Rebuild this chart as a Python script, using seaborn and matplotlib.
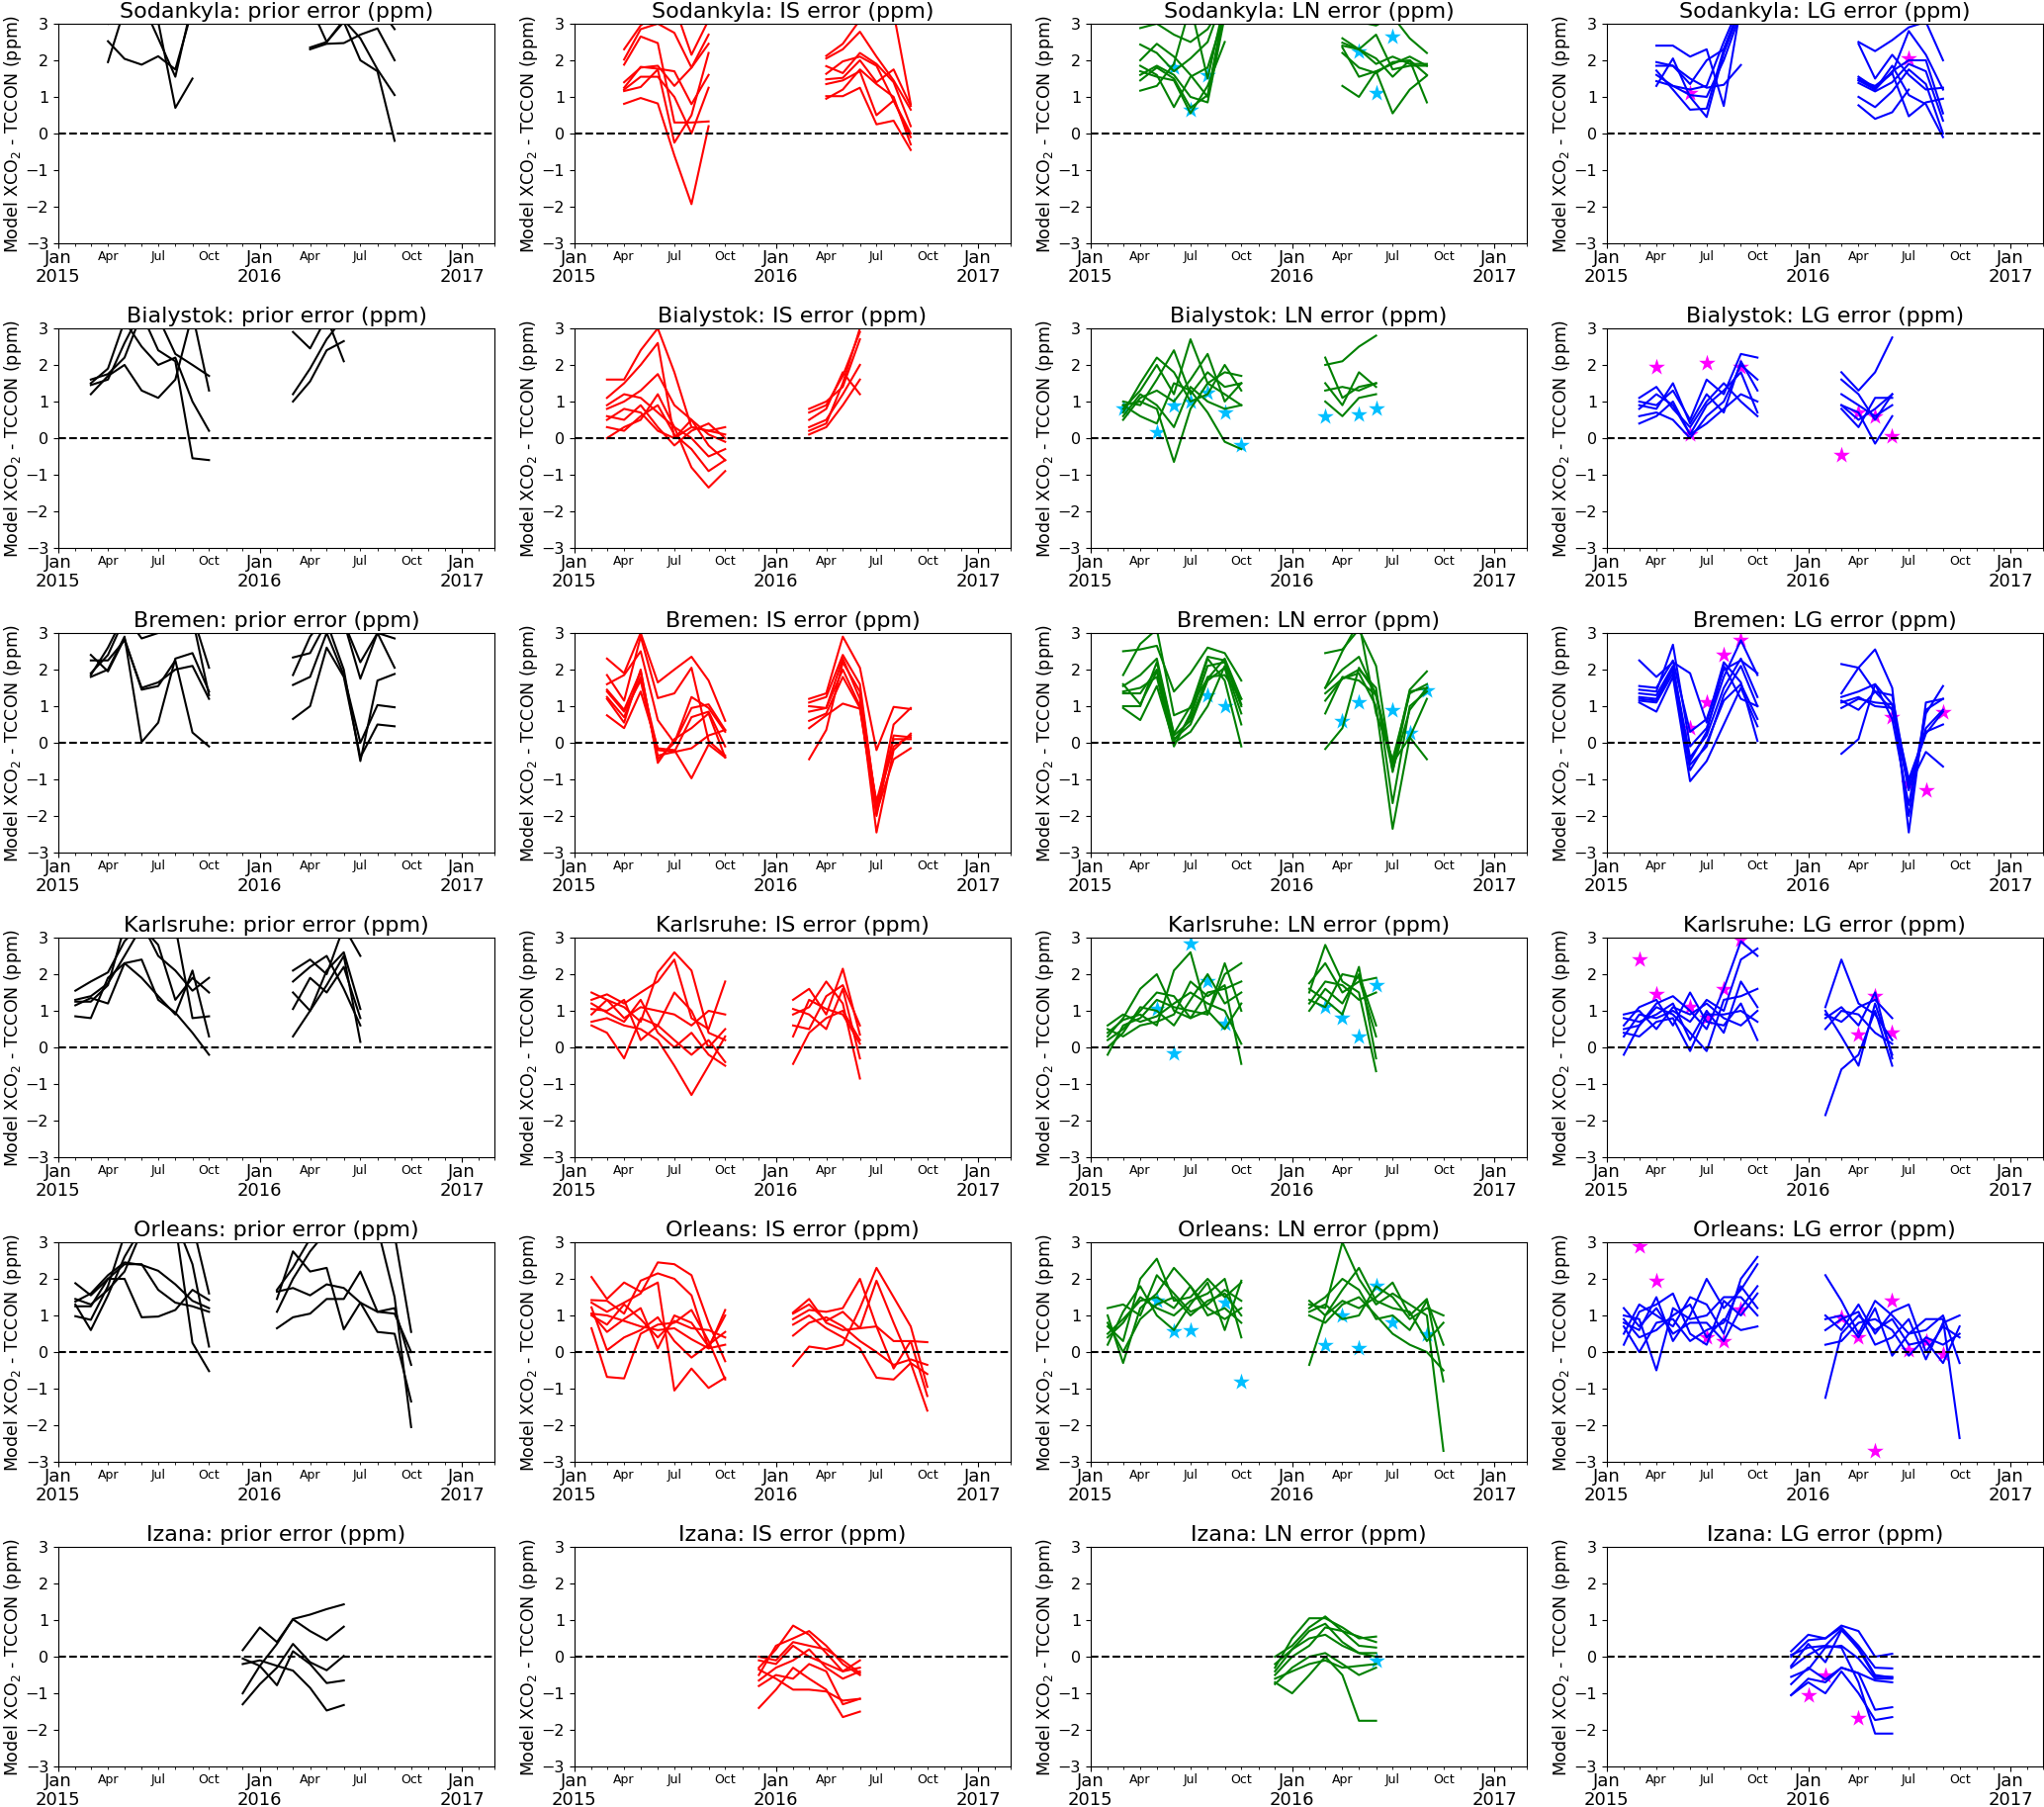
"""plot.py

Model XCO2 minus TCCON errors at six European TCCON sites.
Rows are stations, columns are the prior and the three inversion
set-ups (IS, LN, LG). Every line is one ensemble member, sampled monthly;
stars mark the extra monthly points of the LN / LG runs.
"""

import matplotlib
matplotlib.use("Agg")
import matplotlib.pyplot as plt
import matplotlib.dates as mdates
from matplotlib.ticker import FuncFormatter
import pandas as pd
import seaborn as sns

stations = ["Sodankyla", "Bialystok", "Bremen", "Karlsruhe", "Orleans", "Izana"]
runs = ["prior", "IS", "LN", "LG"]
run_colors = ["black", "red", "green", "blue"]
star_colors = [None, None, "deepskyblue", "magenta"]

# each member: (first month, monthly values in ppm)
sod_prior = [
    ("2015-04", [1.95, 3.4, 3.6, 2.6, 1.55, 3.6]),
    ("2015-04", [3.0, 3.5, 3.4, 3.05, 0.7, 1.5]),
    ("2015-04", [2.52, 2.04, 1.88, 2.11, 1.75, 3.4]),
    ("2016-04", [2.3, 2.45, 2.47, 2.7, 2.87, 2.0]),
    ("2016-04", [2.35, 2.5, 3.05, 2.0, 1.7, -0.2]),
    ("2016-04", [3.5, 2.5, 3.1, 2.6, 1.75, 1.05]),
    ("2016-04", [3.8, 3.6, 3.5, 3.6, 3.5, 2.85]),
]
sod_is = [
    ("2015-04", [2.3, 2.95, 3.3, 3.5, 2.15, 3.1]),
    ("2015-04", [2.02, 2.85, 3.0, 2.75, 1.8, 2.7]),
    ("2015-04", [1.88, 2.65, 2.47, 0.3, 0.3, 0.33]),
    ("2015-04", [1.4, 1.8, 1.85, 1.3, 1.8, 2.45]),
    ("2015-04", [1.25, 1.82, 1.77, 1.7, 0.8, 1.6]),
    ("2015-04", [1.16, 1.27, 1.75, -0.25, 0.5, 2.2]),
    ("2015-04", [0.81, 0.97, 0.82, -0.6, -1.93, 0.2]),
    ("2015-04", [1.2, 1.55, 1.55, 1.0, 0.0, 1.25]),
    ("2016-04", [2.12, 2.45, 3.1, 3.5, 3.3, 0.8]),
    ("2016-04", [2.05, 2.3, 2.78, 2.1, 1.45, 0.65]),
    ("2016-04", [1.84, 1.65, 2.2, 1.9, 1.4, 0.2]),
    ("2016-04", [1.63, 1.97, 2.1, 1.85, 0.9, 0.0]),
    ("2016-04", [1.48, 1.52, 2.0, 1.4, 1.75, 0.75]),
    ("2016-04", [1.35, 1.45, 1.7, 0.5, 0.9, -0.1]),
    ("2016-04", [1.02, 1.02, 1.25, 0.25, 0.35, -0.45]),
    ("2016-04", [0.95, 1.2, 1.75, 1.35, 1.0, -0.3]),
]
sod_ln = [
    ("2015-04", [2.88, 3.0, 2.7, 2.5, 2.85, 3.6]),
    ("2015-04", [2.43, 2.2, 1.7, 2.05, 2.5, 3.8]),
    ("2015-04", [2.0, 2.45, 2.1, 1.6, 1.0, 3.5]),
    ("2015-04", [1.85, 1.6, 0.72, 1.55, 1.8, 3.3]),
    ("2015-04", [1.7, 1.55, 1.45, 0.55, 1.3, 2.5]),
    ("2015-04", [1.6, 1.85, 1.6, 1.0, 0.85, 3.2]),
    ("2015-04", [1.45, 1.8, 1.5, 0.7, 1.05, 3.4]),
    ("2015-04", [1.17, 1.3, 1.9, 3.5, 1.5, 3.6]),
    ("2016-04", [3.3, 3.05, 2.95, 3.2, 2.6, 2.2]),
    ("2016-04", [2.6, 2.3, 1.9, 2.1, 1.9, 1.9]),
    ("2016-04", [2.48, 2.3, 2.05, 1.55, 2.0, 0.85]),
    ("2016-04", [2.35, 1.55, 1.7, 0.55, 1.2, 1.58]),
    ("2016-04", [2.2, 1.8, 1.65, 1.95, 2.0, 1.6]),
    ("2016-04", [1.3, 1.0, 1.7, 1.9, 2.1, 1.85]),
    ("2016-04", [2.4, 2.3, 2.7, 1.75, 1.85, 1.85]),
]
sod_ln_stars = [("2015-06", 1.8), ("2015-07", 0.65), ("2015-08", 1.6),
                ("2016-05", 2.25), ("2016-06", 1.1), ("2016-07", 2.65)]
sod_lg = [
    ("2015-04", [2.4, 2.4, 2.1, 2.3, 0.75, 3.5]),
    ("2015-04", [1.95, 1.85, 1.5, 1.25, 1.33, 1.87]),
    ("2015-04", [1.85, 1.85, 1.35, 2.0, 2.3, 3.5]),
    ("2015-04", [1.72, 1.2, 0.65, 0.68, 2.3, 3.5]),
    ("2015-04", [1.6, 1.3, 1.2, 1.3, 2.5, 3.6]),
    ("2015-04", [1.43, 1.3, 1.05, 1.0, 2.0, 3.3]),
    ("2015-04", [1.3, 2.05, 1.0, 0.45, 2.2, 3.4]),
    ("2016-04", [2.5, 2.25, 2.55, 2.9, 3.05, 2.0]),
    ("2016-04", [2.45, 1.5, 2.15, 1.6, 1.2, 1.25]),
    ("2016-04", [1.55, 1.25, 1.65, 2.8, 2.15, 1.2]),
    ("2016-04", [1.45, 1.2, 1.7, 2.0, 2.0, 0.55]),
    ("2016-04", [1.38, 1.15, 1.4, 1.9, 1.7, 0.35]),
    ("2016-04", [1.0, 0.72, 1.15, 1.75, 1.35, 0.0]),
    ("2016-04", [0.77, 0.4, 0.58, 1.2]),
    ("2016-04", [1.45, 1.3, 1.65, 0.47, 0.85, 0.95]),
    ("2016-04", [1.5, 1.2, 1.85, 1.05, 0.8, -0.1]),
]
sod_lg_stars = [("2015-06", 1.1), ("2016-07", 2.05)]

bia_prior = [
    ("2015-03", [1.6, 1.75, 2.2, 3.4, 2.4, 2.1, -0.55, -0.6]),
    ("2015-03", [1.45, 1.6, 2.6, 3.5, 3.3, 2.3, 2.0, 1.7]),
    ("2015-03", [1.2, 1.7, 2.0, 1.3, 1.1, 1.6, 3.4, 1.3]),
    ("2015-03", [1.5, 1.9, 3.2, 2.5, 2.0, 2.2, 1.0, 0.2]),
    ("2016-03", [1.0, 1.55, 2.4, 2.65]),
    ("2016-03", [1.2, 1.9, 2.7, 3.3]),
    ("2016-03", [2.9, 2.45, 3.3, 2.1]),
]
bia_is = [
    ("2015-03", [1.6, 1.6, 2.4, 3.0, 1.8, 0.3, 0.2, 0.1]),
    ("2015-03", [1.1, 1.5, 2.0, 2.6, 0.0, 0.5, 0.1, -0.1]),
    ("2015-03", [0.8, 1.0, 1.3, 1.75, 0.9, 0.5, -0.2, -0.6]),
    ("2015-03", [0.5, 0.8, 0.7, 0.2, 0.0, 0.3, 0.2, 0.3]),
    ("2015-03", [0.3, 0.2, 0.6, 0.9, 0.1, -0.3, -0.9, -0.6]),
    ("2015-03", [0.0, 0.3, 0.5, 1.2, 0.3, -0.8, -1.35, -0.9]),
    ("2015-03", [0.9, 1.2, 1.1, 0.7, 0.3, 0.0, -0.5, -0.3]),
    ("2015-03", [0.6, 0.5, 0.9, 0.3, -0.2, 0.2, 0.4, 0.0]),
    ("2016-03", [0.1, 0.3, 0.9, 1.6]),
    ("2016-03", [0.3, 0.5, 1.2, 2.0]),
    ("2016-03", [0.7, 0.9, 1.7, 2.9]),
    ("2016-03", [0.8, 1.0, 1.4, 2.7]),
    ("2016-03", [0.2, 0.4, 1.5, 3.0]),
    ("2016-03", [0.5, 0.8, 1.8, 1.2]),
]
bia_ln = [
    ("2015-03", [0.8, 1.3, 2.0, 1.2, 2.7, 1.5, 1.8, 1.7]),
    ("2015-03", [0.7, 1.5, 2.2, 1.8, 1.0, 1.2, 2.0, 1.3]),
    ("2015-03", [0.9, 1.0, 0.8, -0.65, 0.8, 1.5, 1.2, 0.9]),
    ("2015-03", [0.5, 1.1, 1.3, 1.0, 1.6, 2.3, 1.0, 1.5]),
    ("2015-03", [0.9, 0.6, 0.4, 1.5, 1.3, 0.7, -0.1, -0.3]),
    ("2015-03", [1.0, 0.9, 1.6, 2.4, 1.2, 1.8, 1.4, 1.5]),
    ("2015-03", [0.6, 1.2, 0.9, 0.3, 1.4, 1.0, 0.8, 0.9]),
    ("2016-03", [2.0, 2.1, 2.5, 2.8]),
    ("2016-03", [2.2, 1.1, 1.4, 1.5]),
    ("2016-03", [1.3, 1.4, 1.3, 1.5]),
    ("2016-03", [1.5, 0.9, 1.8, 1.4]),
    ("2016-03", [1.0, 0.6, 1.1, 1.2]),
]
bia_ln_stars = [("2015-03", 0.8), ("2015-05", 0.15), ("2015-06", 0.9),
                ("2015-07", 1.0), ("2015-08", 1.25), ("2015-09", 0.7),
                ("2015-10", -0.2), ("2016-03", 0.6), ("2016-05", 0.65),
                ("2016-06", 0.8)]
bia_lg = [
    ("2015-03", [1.0, 0.9, 1.3, 0.5, 1.6, 1.2, 2.3, 2.2]),
    ("2015-03", [0.8, 1.2, 0.9, 0.1, 0.9, 1.3, 1.8, 0.7]),
    ("2015-03", [0.6, 0.7, 0.5, 0.0, 0.6, 1.0, 2.0, 1.6]),
    ("2015-03", [1.1, 1.4, 0.8, 0.3, 1.0, 1.5, 1.0, 0.6]),
    ("2015-03", [0.4, 0.6, 1.0, 0.1, 0.4, 0.8, 1.2, 1.0]),
    ("2015-03", [0.9, 0.8, 1.5, 0.4, 1.2, 0.7, 2.1, 1.3]),
    ("2016-03", [1.8, 1.3, 1.8, 2.75]),
    ("2016-03", [1.6, 1.2, 0.5, 1.2]),
    ("2016-03", [0.9, 0.5, 0.8, 1.2]),
    ("2016-03", [0.8, 0.3, 1.1, 1.1]),
    ("2016-03", [0.9, 0.7, -0.15, 0.6]),
    ("2016-03", [1.2, 0.9, 0.6, 0.9]),
]
bia_lg_stars = [("2015-04", 1.95), ("2015-06", 0.1), ("2015-07", 2.05),
                ("2015-09", 1.95), ("2016-03", -0.45), ("2016-04", 0.7),
                ("2016-05", 0.6), ("2016-06", 0.05)]

bre_prior = [
    ("2015-03", [2.4, 1.95, 2.85, 1.45, 1.55, 2.25, 0.28, -0.1]),
    ("2015-03", [2.25, 2.25, 2.8, 1.5, 1.65, 2.0, 2.1, 1.2]),
    ("2015-03", [1.85, 2.6, 3.5, 2.85, 3.0, 3.5, 3.5, 2.05]),
    ("2015-03", [1.8, 2.0, 2.9, 0.02, 0.55, 2.3, 2.45, 1.4]),
    ("2015-03", [1.9, 2.4, 3.4, 3.2, 3.3, 3.4, 3.4, 1.3]),
    ("2016-03", [2.33, 2.45, 3.3, 2.0, -0.5, 1.7, 1.88]),
    ("2016-03", [1.85, 2.9, 3.5, 3.3, 2.2, 3.0, 2.05]),
    ("2016-03", [1.58, 1.8, 3.0, 1.85, 0.0, 1.03, 0.97]),
    ("2016-03", [0.65, 1.0, 2.6, 1.8, -0.4, 0.5, 0.45]),
    ("2016-03", [3.5, 3.5, 3.1, 3.3, 1.75, 3.0, 2.85]),
]
bre_is = [
    ("2015-03", [2.3, 1.9, 3.0, 1.65, 2.0, 2.35, 1.7, 0.6]),
    ("2015-03", [1.85, 1.15, 2.9, 1.22, 1.35, 2.05, 0.05, -0.35]),
    ("2015-03", [1.6, 1.85, 2.5, 0.62, 0.0, 1.25, 0.95, 0.3]),
    ("2015-03", [1.45, 0.9, 1.95, -0.45, 0.0, 0.95, 1.05, 0.35]),
    ("2015-03", [1.25, 0.7, 1.8, -0.2, -0.25, 0.7, 0.85, -0.1]),
    ("2015-03", [1.2, 0.55, 2.0, -0.55, 0.1, 0.4, 0.8, -0.4]),
    ("2015-03", [0.75, 0.4, 1.4, -0.15, -0.2, -0.97, -0.05, -0.4]),
    ("2015-03", [1.4, 0.85, 1.7, -0.35, -0.25, -0.15, 0.2, 0.35]),
    ("2016-03", [1.2, 1.35, 2.9, 2.05, -0.2, 0.98, 0.92]),
    ("2016-03", [1.1, 1.25, 2.4, 1.6, -1.8, 0.5, 0.95]),
    ("2016-03", [1.0, 0.95, 2.3, 1.2, -2.45, -0.2, 0.25]),
    ("2016-03", [0.85, 0.95, 2.0, 1.0, -2.0, 0.2, 0.15]),
    ("2016-03", [0.6, 0.8, 1.8, 0.95, -1.6, 0.1, 0.1]),
    ("2016-03", [0.4, 0.75, 1.07, 0.93, -1.9, -0.45, -0.15]),
    ("2016-03", [-0.45, 0.35, 2.2, 1.4, -1.7, -0.1, 0.2]),
]
bre_ln = [
    ("2015-03", [2.5, 2.55, 2.65, 1.4, 1.9, 2.6, 2.45, 1.7]),
    ("2015-03", [1.85, 2.7, 3.1, 0.75, 0.95, 2.35, 2.25, 1.05]),
    ("2015-03", [1.55, 1.85, 2.3, 0.25, 1.0, 1.75, 2.3, 1.2]),
    ("2015-03", [1.35, 1.35, 2.0, 0.1, 0.5, 1.7, 2.05, 0.5]),
    ("2015-03", [0.95, 0.62, 1.55, 0.0, 0.3, 1.0, 2.1, 0.8]),
    ("2015-03", [1.4, 1.5, 1.8, -0.1, 0.8, 2.3, 1.7, -0.1]),
    ("2015-03", [1.0, 1.0, 2.2, 0.2, 0.6, 1.8, 1.85, 1.2]),
    ("2015-03", [1.6, 1.05, 1.95, 0.05, 0.7, 2.1, 2.2, 1.0]),
    ("2016-03", [2.45, 2.55, 3.1, 2.1, -0.8, 1.4, 1.5]),
    ("2016-03", [1.5, 2.0, 2.35, 1.3, -0.6, 1.45, 1.95]),
    ("2016-03", [1.35, 1.75, 2.0, 1.5, -1.65, 1.0, 1.4]),
    ("2016-03", [1.15, 1.75, 1.9, 1.0, -2.35, 0.15, 1.2]),
    ("2016-03", [0.8, 1.8, 1.7, 1.3, -0.75, 0.9, 1.5]),
    ("2016-03", [-0.17, 0.4, 2.05, 1.35, -0.55, 0.15, -0.45]),
    ("2016-03", [1.5, 2.5, 3.3, 0.8, -0.45, 1.35, 1.6]),
]
bre_ln_stars = [("2015-08", 1.3), ("2015-09", 1.0), ("2016-04", 0.6),
                ("2016-05", 1.1), ("2016-07", 0.9), ("2016-08", 0.28),
                ("2016-09", 1.42)]
bre_lg = [
    ("2015-03", [2.25, 1.8, 2.2, 1.9, 0.55, 2.2, 1.65, 0.05]),
    ("2015-03", [1.55, 1.5, 2.25, 0.3, 0.65, 2.0, 2.25, 1.9]),
    ("2015-03", [1.45, 1.4, 2.68, -0.1, 0.4, 1.8, 2.8, 1.85]),
    ("2015-03", [1.35, 1.3, 2.1, -0.4, 0.2, 1.5, 2.3, 1.25]),
    ("2015-03", [1.25, 1.2, 2.0, -0.6, -0.1, 1.3, 2.1, 1.0]),
    ("2015-03", [1.15, 1.1, 1.9, -0.75, 0.0, 1.15, 1.6, 0.65]),
    ("2015-03", [1.1, 0.85, 1.8, -1.05, -0.5, 0.5, 1.5, 0.45]),
    ("2015-03", [1.2, 1.15, 2.05, -0.5, 0.3, 2.1, 1.2, 1.0]),
    ("2016-03", [2.15, 2.05, 1.4, 1.3, -1.2, -0.25, -0.65]),
    ("2016-03", [1.35, 2.05, 2.55, 1.5, -2.45, 1.1, 1.2]),
    ("2016-03", [1.25, 1.4, 1.6, 1.05, -2.0, 0.8, 1.55]),
    ("2016-03", [1.1, 1.25, 1.0, 0.95, -1.3, 0.4, 0.9]),
    ("2016-03", [0.95, 1.2, 1.1, 1.05, -1.0, 0.3, 0.5]),
    ("2016-03", [-0.3, 0.1, 1.6, 0.65, -1.7, 0.9, 1.2]),
    ("2016-03", [1.15, 0.9, 1.4, 0.9, -1.1, 0.25, 0.85]),
]
bre_lg_stars = [("2015-06", 0.4), ("2015-07", 1.1), ("2015-08", 2.4),
                ("2015-09", 2.8), ("2016-06", 0.7), ("2016-07", -1.1),
                ("2016-08", -1.3), ("2016-09", 0.85)]

kar_prior = [
    ("2015-02", [1.55, 1.8, 2.05, 2.9, 3.4, 2.5, 2.1, 1.55, 1.9]),
    ("2015-02", [1.3, 1.4, 1.75, 2.5, 3.3, 2.8, 1.3, 1.9, 1.5]),
    ("2015-02", [1.15, 1.35, 1.2, 2.3, 1.9, 1.4, 0.9, 2.1, 0.3]),
    ("2015-02", [0.85, 0.8, 1.9, 2.3, 2.4, 1.3, 0.95, 0.4, -0.2]),
    ("2015-02", [1.25, 1.25, 1.7, 3.3, 3.5, 3.4, 3.3, 0.8, 0.85]),
    ("2016-03", [0.3, 1.0, 1.7, 2.5, 0.15]),
    ("2016-03", [1.05, 1.9, 1.5, 2.2, 0.8]),
    ("2016-03", [1.5, 1.0, 2.1, 2.6, 1.05]),
    ("2016-03", [2.1, 2.4, 2.0, 3.3, 2.5]),
    ("2016-03", [1.8, 2.2, 2.5, 1.6, 0.6]),
]
kar_is = [
    ("2015-02", [1.5, 1.3, 1.1, 0.7, 2.05, 2.6, 2.1, 0.4, 0.2]),
    ("2015-02", [1.3, 1.45, 1.2, 1.5, 1.8, 2.4, 0.8, 0.5, 1.8]),
    ("2015-02", [1.05, 1.0, 1.3, 0.2, 0.6, 1.5, 1.0, 0.0, 0.5]),
    ("2015-02", [0.9, 1.3, 0.8, 1.1, 1.0, 0.9, 0.6, 1.0, 0.9]),
    ("2015-02", [0.7, 0.8, 0.6, 0.5, 0.2, -0.5, -1.3, -0.5, 0.3]),
    ("2015-02", [0.6, 0.4, -0.3, 0.8, 0.6, 0.2, -0.2, 0.2, -0.4]),
    ("2015-02", [1.2, 0.95, 0.7, 1.3, 0.4, 0.0, 0.4, -0.2, -0.5]),
    ("2016-02", [1.3, 1.6, 0.9, 2.15, 0.35]),
    ("2016-02", [0.9, 1.1, 1.8, 1.2, -0.85]),
    ("2016-02", [0.6, 0.5, 1.4, 1.7, 0.6]),
    ("2016-02", [-0.45, 0.4, 0.8, 1.0, 0.2]),
    ("2016-02", [1.05, 0.9, 0.5, 1.6, -0.3]),
    ("2016-02", [0.3, 1.3, 1.05, 0.9, 0.1]),
]
kar_ln = [
    ("2015-02", [0.4, 0.75, 0.9, 0.6, 2.1, 2.6, 0.9, 2.0, 2.3]),
    ("2015-02", [0.3, 0.8, 1.6, 2.0, 1.0, 0.8, 1.5, 1.6, 1.8]),
    ("2015-02", [0.0, 0.4, 1.1, 1.0, 0.6, 1.3, 2.0, 1.2, 1.5]),
    ("2015-02", [-0.2, 0.6, 0.8, 1.3, 1.1, 1.0, 0.9, 2.3, 1.0]),
    ("2015-02", [0.6, 0.9, 0.7, 0.85, 1.2, 1.5, 1.2, 1.0, 0.1]),
    ("2015-02", [0.5, 0.3, 0.6, 0.7, 0.9, 1.8, 1.4, 1.7, -0.45]),
    ("2015-02", [0.2, 0.5, 1.0, 1.5, 1.4, 0.8, 1.0, 0.5, 1.2]),
    ("2016-02", [1.5, 2.8, 1.8, 1.5, -0.65]),
    ("2016-02", [1.3, 1.1, 2.0, 1.9, 0.3]),
    ("2016-02", [1.75, 2.3, 1.5, 1.8, 1.9]),
    ("2016-02", [1.0, 1.6, 1.2, 2.0, 0.6]),
    ("2016-02", [1.2, 1.8, 1.7, 1.3, 1.5]),
    ("2016-02", [1.6, 1.3, 0.9, 2.2, -0.3]),
]
kar_ln_stars = [("2015-05", 1.05), ("2015-06", -0.15), ("2015-07", 2.85),
                ("2015-08", 1.8), ("2015-09", 0.65), ("2016-03", 1.1),
                ("2016-04", 0.8), ("2016-05", 0.3), ("2016-06", 1.7)]
kar_lg = [
    ("2015-02", [-0.2, 0.6, 1.2, 1.4, 1.0, 0.5, 1.6, 2.9, 2.5]),
    ("2015-02", [0.3, 0.9, 0.8, 1.0, 0.7, 1.3, 1.0, 2.4, 2.7]),
    ("2015-02", [0.5, 0.6, 1.1, 0.9, 0.4, -0.1, 1.3, 1.4, 1.6]),
    ("2015-02", [0.8, 0.7, 0.9, 1.2, 0.2, 1.0, 0.4, 1.8, 1.1]),
    ("2015-02", [0.4, 0.3, 0.7, 0.8, -0.1, 0.9, 0.9, 1.0, 0.7]),
    ("2015-02", [0.6, 1.1, 1.3, 0.6, 1.5, 0.7, 0.6, 1.2, 0.2]),
    ("2015-02", [0.9, 1.0, 0.5, 1.1, 0.9, 1.2, 0.8, 0.6, 1.0]),
    ("2016-02", [1.1, 2.4, 1.2, 0.9, 0.2]),
    ("2016-02", [-1.85, -0.6, -0.2, 1.0, -0.5]),
    ("2016-02", [0.9, 0.7, 1.1, 1.3, 0.8]),
    ("2016-02", [1.0, 0.3, -0.5, 1.2, -0.2]),
    ("2016-02", [0.5, 1.0, 0.9, 0.4, 0.1]),
    ("2016-02", [0.8, 1.1, 0.6, 1.5, -0.3]),
]
kar_lg_stars = [("2015-03", 2.4), ("2015-04", 1.45), ("2015-06", 1.1),
                ("2015-07", 0.8), ("2015-08", 1.6), ("2015-09", 2.95),
                ("2016-04", 0.35), ("2016-05", 1.4), ("2016-06", 0.4)]

orl_prior = [
    ("2015-02", [1.88, 1.55, 2.0, 2.4, 2.4, 1.7, 1.35, 1.25, 1.1]),
    ("2015-02", [1.38, 1.6, 2.1, 2.45, 2.38, 2.22, 1.85, 1.4, 1.2]),
    ("2015-02", [1.25, 1.25, 2.0, 2.0, 0.95, 0.97, 1.15, 1.7, 1.42]),
    ("2015-02", [0.98, 0.88, 1.8, 3.2, 3.5, 3.5, 3.5, 0.25, -0.52]),
    ("2015-02", [1.3, 0.6, 1.55, 2.6, 3.4, 3.6, 3.7, 3.5, 1.6]),
    ("2015-02", [1.45, 1.3, 1.7, 2.2, 3.3, 3.5, 3.6, 2.4, 0.15]),
    ("2016-02", [0.65, 0.95, 1.05, 1.45, 1.45, 2.2, 1.1, 1.2, -0.35]),
    ("2016-02", [1.45, 2.75, 2.2, 2.3, 0.62, 1.35, 1.1, 1.05, 0.0]),
    ("2016-02", [1.65, 1.75, 1.55, 1.85, 1.75, 1.35, 0.55, 0.5, -1.35]),
    ("2016-02", [1.1, 2.0, 2.75, 3.3, 3.5, 3.5, 3.5, 3.2, 0.55]),
    ("2016-02", [1.7, 2.3, 3.1, 3.5, 3.6, 3.6, 3.4, 1.5, -2.05]),
]
orl_is = [
    ("2015-02", [2.05, 1.45, 1.9, 1.65, 1.9, -1.05, -0.45, -0.98, -0.7]),
    ("2015-02", [1.42, 1.4, 1.05, 1.95, 2.15, 2.0, 1.55, 0.1, 1.15]),
    ("2015-02", [1.35, 1.1, 1.35, 1.6, 2.45, 2.4, 2.1, 0.8, -0.25]),
    ("2015-02", [1.22, 0.05, 0.4, 0.6, 0.95, 0.3, -0.15, 0.2, 0.55]),
    ("2015-02", [1.05, 1.0, 0.85, 0.7, 0.6, 0.65, 0.35, 0.1, 0.2]),
    ("2015-02", [0.65, -0.68, -0.72, 0.5, 0.75, 0.8, 1.15, 0.3, -0.75]),
    ("2015-02", [1.0, 0.75, 1.3, 0.9, 0.4, 0.85, 0.65, 0.6, 0.4]),
    ("2015-02", [1.05, 0.55, 0.9, 1.2, 0.1, 1.0, 0.8, 0.15, 1.0]),
    ("2016-02", [-0.38, 0.15, 0.08, 0.2, 1.2, 2.3, 1.5, 0.7, -0.95]),
    ("2016-02", [1.08, 1.45, 0.8, 0.6, 0.65, 1.95, 0.8, -0.3, -1.6]),
    ("2016-02", [0.9, 1.15, 1.1, 1.2, 2.0, 0.7, 0.3, 0.3, 0.27]),
    ("2016-02", [0.75, 1.0, 0.65, 0.4, 0.1, -0.7, -0.75, -0.3, -0.6]),
    ("2016-02", [0.45, 0.8, 0.95, 0.7, 0.3, 0.0, -0.35, -0.2, -0.35]),
    ("2016-02", [1.05, 1.3, 0.85, 1.1, 0.65, 0.7, -0.45, 0.3, -1.2]),
]
orl_ln = [
    ("2015-02", [0.7, 0.3, 2.0, 2.55, 1.4, 1.5, 2.0, 1.5, 1.9]),
    ("2015-02", [1.0, -0.3, 1.2, 1.6, 2.3, 1.8, 1.2, 0.9, 1.2]),
    ("2015-02", [0.4, 0.8, 1.5, 1.2, 1.0, 1.4, 1.6, 2.0, 0.4]),
    ("2015-02", [1.2, 1.3, 1.0, 2.1, 1.6, 1.1, 1.3, 1.7, 1.4]),
    ("2015-02", [0.2, 1.1, 1.8, 1.0, 0.6, 1.3, 1.9, 0.6, 1.95]),
    ("2015-02", [0.5, 0.9, 1.4, 1.5, 1.2, 1.8, 1.0, 1.2, 0.8]),
    ("2015-02", [0.8, 0.0, 0.9, 1.3, 1.5, 1.0, 1.4, 1.6, 1.0]),
    ("2016-02", [1.3, 1.2, 3.0, 2.0, 1.3, 1.6, 1.3, 1.0, -2.7]),
    ("2016-02", [-0.35, 1.0, 1.4, 1.2, 1.5, 1.9, 1.0, 1.45, -0.8]),
    ("2016-02", [1.2, 1.5, 2.0, 1.7, 0.9, 1.0, 0.6, 1.4, 0.2]),
    ("2016-02", [1.4, 1.0, 1.7, 2.3, 1.4, 1.2, 1.1, 0.3, 0.8]),
    ("2016-02", [1.1, 1.3, 0.9, 1.0, 1.8, 1.5, 0.9, 1.2, 1.0]),
    ("2016-02", [1.0, 0.8, 1.3, 1.5, 1.0, 0.5, 0.2, 0.0, -0.5]),
]
orl_ln_stars = [("2015-05", 1.4), ("2015-06", 0.57), ("2015-07", 0.6),
                ("2015-09", 1.35), ("2015-10", -0.8), ("2016-03", 0.2),
                ("2016-04", 1.0), ("2016-05", 0.1), ("2016-06", 1.8),
                ("2016-07", 0.8), ("2016-09", 0.5)]
orl_lg = [
    ("2015-02", [0.5, 1.3, 1.0, 0.7, 1.5, 1.3, 0.5, 2.0, 2.6]),
    ("2015-02", [0.8, 0.6, 1.5, 0.3, 1.0, 2.0, 1.2, 1.7, 2.4]),
    ("2015-02", [0.2, 1.1, 1.3, 1.6, 0.5, 0.2, 1.4, 1.0, 1.6]),
    ("2015-02", [1.0, 0.9, -0.5, 1.2, 0.9, 1.0, 1.5, 1.5, 1.0]),
    ("2015-02", [0.7, 0.0, 0.8, 0.9, 0.3, 0.6, 0.8, 1.8, 1.2]),
    ("2015-02", [0.9, 0.4, 0.6, 1.0, 1.3, 0.4, 0.9, 0.6, 0.7]),
    ("2015-02", [1.2, 0.7, 1.2, 0.5, 0.8, 0.8, 0.3, 1.2, 1.8]),
    ("2016-02", [2.1, 1.4, 0.5, 1.4, 1.0, 0.5, 0.9, 0.9, -2.35]),
    ("2016-02", [-1.25, 0.5, 1.0, 0.6, 0.9, 0.2, 0.3, -0.3, 0.7]),
    ("2016-02", [0.6, 0.9, 1.1, 0.2, 0.4, 0.9, -0.2, 0.8, 1.0]),
    ("2016-02", [0.9, 1.0, 0.4, 1.2, -0.1, 0.5, 0.6, 1.0, -0.3]),
    ("2016-02", [0.2, 0.3, 0.8, 0.9, 0.6, -0.1, 0.4, 0.2, 0.5]),
    ("2016-02", [1.0, 0.6, 1.3, 0.5, 1.1, 1.3, 0.0, 0.7, 0.4]),
]
orl_lg_stars = [("2015-03", 2.9), ("2015-04", 1.95), ("2015-07", 0.4),
                ("2015-08", 0.3), ("2015-09", 1.15), ("2016-03", 0.95),
                ("2016-04", 0.4), ("2016-05", -2.7), ("2016-06", 1.4),
                ("2016-07", 0.05), ("2016-08", 0.3), ("2016-09", -0.05)]

iza_prior = [
    ("2015-12", [0.18, 0.8, 0.4, 1.02, 0.7, 0.45, 0.82]),
    ("2015-12", [-1.0, -0.25, 0.35, 1.03, 1.15, 1.3, 1.43]),
    ("2015-12", [-1.3, -0.75, -0.3, 0.35, -0.15, -0.37, 0.02]),
    ("2015-12", [-0.05, -0.25, -0.78, 0.15, -0.2, -0.72, -0.65]),
    ("2015-12", [-0.2, -0.1, -0.25, -0.38, -0.85, -1.47, -1.32]),
]
iza_is = [
    ("2015-12", [-0.3, 0.2, 0.85, 0.6, 0.1, -0.4, -0.3]),
    ("2015-12", [-0.5, 0.3, 0.5, 0.7, 0.3, -0.2, -0.5]),
    ("2015-12", [-0.1, -0.2, 0.3, 0.0, -0.2, -0.4, -0.1]),
    ("2015-12", [-0.65, -0.3, -0.1, 0.2, -0.3, -0.6, -0.4]),
    ("2015-12", [-0.8, -0.5, -0.6, -0.2, -0.4, -1.3, -1.15]),
    ("2015-12", [-1.4, -0.9, -0.3, -0.6, -0.9, -1.65, -1.5]),
    ("2015-12", [-0.35, -0.6, -0.9, -0.9, -0.95, -1.2, -1.15]),
    ("2015-12", [0.0, -0.1, 0.4, 0.3, 0.2, -0.1, -0.45]),
]
iza_ln = [
    ("2015-12", [-0.3, 0.5, 1.05, 1.05, 0.8, 0.5, 0.55]),
    ("2015-12", [0.0, 0.3, 0.8, 1.1, 0.7, 0.55, 0.4]),
    ("2015-12", [-0.5, 0.0, 0.3, 0.8, 0.7, 0.3, 0.25]),
    ("2015-12", [-0.2, 0.2, 0.5, 0.6, 0.3, 0.1, 0.1]),
    ("2015-12", [-0.75, -0.3, 0.0, 0.1, -0.2, -0.5, -0.3]),
    ("2015-12", [-0.6, -0.4, -0.2, -0.1, -0.3, -0.25, -0.2]),
    ("2015-12", [-0.7, -1.0, -0.5, 0.0, -0.5, -1.75, -1.75]),
    ("2015-12", [-0.4, 0.2, 0.7, 0.9, 0.4, 0.1, 0.0]),
]
iza_ln_stars = [("2016-06", -0.1)]
iza_lg = [
    ("2015-12", [0.15, 0.6, 0.5, 0.85, 0.7, 0.0, 0.08]),
    ("2015-12", [0.0, 0.45, 0.5, 0.8, 0.3, -0.3, -0.32]),
    ("2015-12", [-0.25, 0.35, -0.15, 0.72, 0.25, -0.5, -0.57]),
    ("2015-12", [-0.55, -0.35, 0.25, 0.3, -0.05, -0.6, -0.6]),
    ("2015-12", [-0.75, -0.3, -0.62, -0.3, -0.45, -0.65, -0.7]),
    ("2015-12", [-1.05, -0.6, -0.7, -0.3, -0.45, -1.45, -1.38]),
    ("2015-12", [-1.05, -0.7, -1.0, -0.4, -1.0, -1.73, -1.65]),
    ("2015-12", [-0.3, 0.05, 0.3, 0.25, -0.7, -2.1, -2.1]),
    ("2015-12", [0.05, 0.25, 0.3, 0.75, 0.2, -0.55, -0.55]),
]
iza_lg_stars = [("2016-01", -1.05), ("2016-02", -0.52), ("2016-04", -1.67)]

# grid of panels, rows = stations, columns = runs
members = [
    [sod_prior, sod_is, sod_ln, sod_lg],
    [bia_prior, bia_is, bia_ln, bia_lg],
    [bre_prior, bre_is, bre_ln, bre_lg],
    [kar_prior, kar_is, kar_ln, kar_lg],
    [orl_prior, orl_is, orl_ln, orl_lg],
    [iza_prior, iza_is, iza_ln, iza_lg],
]
stars = [
    [None, None, sod_ln_stars, sod_lg_stars],
    [None, None, bia_ln_stars, bia_lg_stars],
    [None, None, bre_ln_stars, bre_lg_stars],
    [None, None, kar_ln_stars, kar_lg_stars],
    [None, None, orl_ln_stars, orl_lg_stars],
    [None, None, iza_ln_stars, iza_lg_stars],
]


def to_frame(panel):
    """Long table (member, date, error) for one panel."""
    rows = []
    for i, (start, vals) in enumerate(panel):
        dates = pd.date_range(start, periods=len(vals), freq="MS")
        for d, v in zip(dates, vals):
            rows.append({"member": i, "date": d, "error": v})
    return pd.DataFrame(rows)


def quarter_label(x, pos):
    d = mdates.num2date(x)
    return d.strftime("%b") if d.month in (4, 7, 10) else ""


fig, axes = plt.subplots(6, 4, figsize=(20.67, 18.27), dpi=100)
fig.subplots_adjust(left=0.0285, right=0.9995, top=0.9869, bottom=0.0224,
                    wspace=0.183, hspace=0.387)

for r, station in enumerate(stations):
    for c, run in enumerate(runs):
        ax = axes[r, c]
        if stars[r][c]:
            sdf = pd.DataFrame(stars[r][c], columns=["date", "error"])
            sdf["date"] = pd.to_datetime(sdf["date"])
            sns.scatterplot(data=sdf, x="date", y="error", marker="*", s=160,
                            color=star_colors[c], edgecolor=star_colors[c],
                            linewidth=0, zorder=1.5, ax=ax, legend=False)
        sns.lineplot(data=to_frame(members[r][c]), x="date", y="error",
                     units="member", estimator=None, color=run_colors[c],
                     lw=1.5, ax=ax, legend=False)
        ax.axhline(0, color="black", ls="--", lw=1.5, zorder=3)

        ax.set_xlim(pd.Timestamp("2015-01-01"), pd.Timestamp("2017-03-01"))
        ax.set_ylim(-3, 3)
        ax.xaxis.set_major_locator(mdates.YearLocator())
        ax.xaxis.set_major_formatter(mdates.DateFormatter("%b\n%Y"))
        ax.xaxis.set_minor_locator(mdates.MonthLocator())
        ax.xaxis.set_minor_formatter(FuncFormatter(quarter_label))
        ax.tick_params(axis="x", which="major", labelsize=13, length=3.5, pad=1)
        ax.tick_params(axis="x", which="minor", labelsize=9, length=2, pad=3)
        ax.tick_params(axis="y", labelsize=11.5)
        for lab in ax.get_xticklabels():
            lab.set_linespacing(1.05)

        ax.set_title(f"{station}: {run} error (ppm)", fontsize=16, pad=4)
        ax.set_xlabel("")
        ax.set_ylabel("Model XCO$_2$ - TCCON (ppm)", fontsize=12.5, labelpad=1)

fig.savefig("out.png", dpi=100)
